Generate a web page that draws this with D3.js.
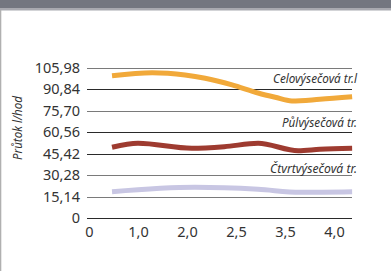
<!DOCTYPE html>
<html><head><meta charset="utf-8">
<script src="https://cdn.jsdelivr.net/npm/d3@7"></script>
<style>
html,body{margin:0;padding:0;background:#fff;}
svg{display:block;}
</style></head>
<body>
<svg id="c" width="391" height="271"></svg>
<script>
// ---- data ----
const xTickLabels = ["0", "1,0", "2,0", "2,5", "3,5", "4,0"];
const yTickValues = [0, 15.14, 30.28, 45.42, 60.56, 75.70, 90.84, 105.98];
const yTickLabels = ["0", "15,14", "30,28", "45,42", "60,56", "75,70", "90,84", "105,98"];
const yTitle = "Průtok l/hod";
// x positions are in tick-index units (0 = "0", 5 = "4,0")
const celoX = [0.47, 1.29, 1.96, 2.37, 2.92, 3.45, 3.80, 4.14, 4.71, 5.37];
const celoY = [100.2, 102.3, 100.7, 98.4, 93.7, 88.0, 85.0, 82.4, 83.6, 85.4];
const pulX = [0.47, 1.0, 2.1, 2.76, 3.45, 4.27, 4.71, 5.37];
const pulY = [49.8, 52.6, 49.1, 50.2, 52.6, 47.4, 48.4, 49.1];
const ctvX = [0.47, 2.16, 3.45, 4.31, 5.37];
const ctvY = [18.5, 21.6, 20.2, 18.1, 18.5];
const seriesNames = ["Celovýsečová tr.l", "Půlvýsečová tr.", "Čtvrtvýsečová tr."];

// ---- layout ----
const svg = d3.select("#c");
const x = d3.scaleLinear().domain([0, 5]).range([89, 334]);
const y = d3.scaleLinear().domain([0, 105.98]).range([218, 67.5]);
const xEnd = x.invert(352);

// header band and frame
svg.append("rect").attr("x", 0).attr("y", 0).attr("width", 391).attr("height", 8).attr("fill", "#737680");
svg.append("rect").attr("x", 0).attr("y", 8).attr("width", 391).attr("height", 2.5).attr("fill", "#a8a9b0");
svg.append("rect").attr("x", 0).attr("y", 10).attr("width", 1.3).attr("height", 261).attr("fill", "#b0b0b0");

// gridlines
const gridColors = ["#2a2a2a", "#7a7a7a", "#7a7a7a", "#2a2a2a", "#2a2a2a", "#7a7a7a", "#2a2a2a", "#7a7a7a"];
const yAxis = d3.axisLeft(y).tickValues(yTickValues)
  .tickFormat((d, i) => yTickLabels[i]).tickSize(0).tickPadding(7);
const gy = svg.append("g").attr("transform", "translate(87,0)").call(yAxis);
gy.select(".domain").remove();
gy.selectAll(".tick text").attr("font-family", "Noto Sans, sans-serif").attr("font-size", 14.5)
  .attr("fill", "#333").attr("x", -7);
svg.append("g").selectAll("line").data(yTickValues).join("line")
  .attr("x1", 87).attr("x2", 352)
  .attr("y1", d => Math.round(y(d)) + 0.5).attr("y2", d => Math.round(y(d)) + 0.5)
  .attr("stroke", (d, i) => gridColors[i]).attr("stroke-width", 1.2);

// x axis labels
const xAxis = d3.axisBottom(x).tickValues(d3.range(xTickLabels.length))
  .tickFormat((d, i) => xTickLabels[i]).tickSize(0).tickPadding(9);
const gx = svg.append("g").attr("transform", "translate(0,218)").call(xAxis);
gx.select(".domain").remove();
gx.selectAll(".tick text").attr("font-family", "Noto Sans, sans-serif").attr("font-size", 14.5).attr("fill", "#333");

// y title
svg.append("text").attr("transform", "translate(22,128) rotate(-90)")
  .attr("text-anchor", "middle").attr("font-family", "Noto Sans, sans-serif")
  .attr("font-style", "italic").attr("font-size", 12).attr("fill", "#333")
  .attr("textLength", 64).attr("lengthAdjust", "spacingAndGlyphs").text(yTitle);

// lines
const line = d3.line().x(d => x(d[0])).y(d => y(d[1])).curve(d3.curveMonotoneX);
const series = [
  {xs: celoX, ys: celoY, color: "#f1a93a"},
  {xs: pulX, ys: pulY, color: "#9e3b30"},
  {xs: ctvX, ys: ctvY, color: "#c8c6e3"}
];
series.forEach(s => {
  svg.append("path").datum(s.xs.map((v, i) => [v, s.ys[i]]))
    .attr("d", line).attr("fill", "none").attr("stroke", s.color)
    .attr("stroke-width", 5);
});

// series labels
const labelPos = [{y: 83, w: 84}, {y: 127, w: 75}, {y: 173, w: 87}];
seriesNames.forEach((n, i) => {
  svg.append("text").attr("x", 357).attr("y", labelPos[i].y).attr("text-anchor", "end")
    .attr("font-family", "Noto Sans, sans-serif").attr("font-style", "italic")
    .attr("font-size", 13).attr("fill", "#333")
    .attr("textLength", labelPos[i].w).attr("lengthAdjust", "spacingAndGlyphs").text(n);
});
</script>
</body></html>
